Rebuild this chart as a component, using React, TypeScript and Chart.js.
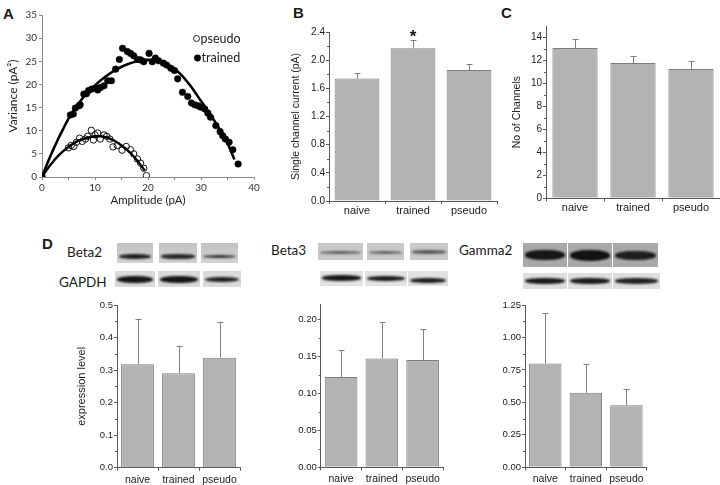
import React, { useEffect, useRef } from "react";
import { Chart, registerables } from "chart.js";

Chart.register(...registerables);

const ARIAL = "'Liberation Sans', Arial, sans-serif";
const CALIBRI = "Lato, 'Open Sans', sans-serif";
const AXIS = "#5a5a5a";
const TXT = "#222";
const BAR_FILL = "#b3b3b3";
const BAR_EDGE = "#7d7d7d";

// ---------- Panel A : variance vs amplitude ----------
const trainedAmplitude = [0, 5.35, 5.9, 6.3, 7.0, 7.2, 7.9, 8.4, 8.8, 9.4, 10.1, 10.5, 11.0, 11.7, 12.4, 13.1, 13.9, 14.6, 15.2, 16.1, 16.7, 17.3, 18.0, 18.6, 19.2, 20.2, 20.8, 21.4, 22.0, 22.9, 23.5, 24.3, 25.0, 25.6, 26.5, 27.5, 28.2, 28.8, 29.4, 29.9, 30.7, 31.3, 31.8, 32.8, 33.6, 34.1, 34.6, 35.3, 36.0, 37.0];
const trainedVariance = [0, 13.4, 13.6, 14.9, 15.4, 15.6, 17.9, 18.0, 18.7, 19.0, 19.2, 18.8, 19.3, 19.7, 20.8, 20.8, 23.3, 25.4, 27.8, 27.1, 26.7, 26.2, 25.4, 25.3, 24.9, 26.7, 24.9, 25.7, 25.1, 24.6, 24.2, 23.5, 23.0, 21.2, 18.3, 17.4, 16.0, 15.6, 15.4, 15.1, 14.7, 13.8, 12.9, 11.1, 9.8, 8.9, 8.2, 7.5, 5.9, 2.8];
const pseudoAmplitude = [0, 5.0, 5.5, 6.0, 6.5, 7.1, 7.6, 8.2, 8.6, 9.3, 9.7, 10.0, 10.5, 11.0, 11.7, 12.2, 12.8, 13.4, 14.2, 15.1, 15.9, 16.7, 17.3, 18.0, 18.6, 19.2, 19.7];
const pseudoVariance = [0, 6.3, 6.8, 6.6, 7.5, 8.4, 7.7, 8.2, 8.8, 10.1, 8.0, 9.1, 9.5, 8.2, 9.1, 8.8, 8.2, 6.5, 6.8, 5.8, 6.6, 5.9, 5.0, 3.9, 3.0, 1.9, 0.3];
const trainedFitAmplitude = [0, 1, 2, 3, 4, 5, 6, 8, 10, 12, 14, 16, 18, 20, 22, 24, 26, 28, 30, 32, 34, 35, 36.3];
const trainedFitVariance = [0, 2.9, 5.6, 8.1, 10.4, 12.6, 14.4, 17.5, 19.8, 21.7, 23.2, 24.3, 25.0, 25.3, 25.0, 24.1, 22.4, 19.7, 16.4, 13.1, 9.4, 7.3, 3.8];
const pseudoFitAmplitude = [0, 1, 2, 3, 4, 5, 6, 7, 8, 9, 10, 11, 12, 13, 14, 15, 16, 17, 18, 19, 19.4];
const pseudoFitVariance = [0, 1.7, 3.2, 4.5, 5.6, 6.5, 7.3, 7.9, 8.3, 8.6, 8.8, 8.8, 8.6, 8.2, 7.6, 6.8, 5.9, 4.8, 3.5, 2.0, 1.4];
const amplitudeTicks = [0, 5, 10, 15, 20, 25, 30, 35, 40];
const varianceTicks = [0, 5, 10, 15, 20, 25, 30, 35];
const legendLabels = ["pseudo", "trained"];

// ---------- Bar panels ----------
const groups = ["naive", "trained", "pseudo"];

const currentMean = [1.74, 2.17, 1.86];
const currentErr = [0.08, 0.12, 0.08];
const currentTicks = [0, 0.4, 0.8, 1.2, 1.6, 2.0, 2.4];
const currentMinor = [0.2, 0.6, 1.0, 1.4, 1.8, 2.2];

const channelsMean = [13.08, 11.77, 11.25];
const channelsErr = [0.78, 0.58, 0.69];
const channelsTicks = [0, 2, 4, 6, 8, 10, 12, 14];
const channelsMinor = [1, 3, 5, 7, 9, 11, 13];

const beta2Mean = [0.318, 0.29, 0.338];
const beta2Err = [0.138, 0.085, 0.111];
const beta2Ticks = [0, 0.1, 0.2, 0.3, 0.4, 0.5];
const beta2Minor = [0.05, 0.15, 0.25, 0.35, 0.45];

const beta3Mean = [0.122, 0.147, 0.145];
const beta3Err = [0.037, 0.049, 0.042];
const beta3Ticks = [0, 0.05, 0.1, 0.15, 0.2];
const beta3Minor = [0.025, 0.075, 0.125, 0.175];

const gamma2Mean = [0.8, 0.574, 0.477];
const gamma2Err = [0.39, 0.219, 0.123];
const gamma2Ticks = [0, 0.25, 0.5, 0.75, 1.0, 1.25];
const gamma2Minor = [0.125, 0.375, 0.625, 0.875, 1.125];

const pairs = (xs: number[], ys: number[]) => xs.map((x, i) => ({ x, y: ys[i] }));

const barExtras = {
  id: "barExtras",
  afterDatasetsDraw(chart: any, _args: any, opts: any) {
    const { ctx, chartArea } = chart;
    const y = chart.scales.y;
    const meta = chart.getDatasetMeta(0);
    const data = chart.data.datasets[0].data as number[];
    ctx.save();
    ctx.strokeStyle = "#808080";
    ctx.lineWidth = 1;
    meta.data.forEach((bar: any, i: number) => {
      const e = opts.errors ? opts.errors[i] : null;
      if (e == null) return;
      const xp = Math.round(bar.x) + 0.5;
      const yTop = Math.round(y.getPixelForValue(data[i] + e)) + 0.5;
      ctx.beginPath();
      ctx.moveTo(xp, bar.y);
      ctx.lineTo(xp, yTop);
      ctx.moveTo(xp - 3, yTop);
      ctx.lineTo(xp + 3, yTop);
      ctx.stroke();
      if (opts.star === i) {
        ctx.fillStyle = "#111";
        ctx.font = `bold 17px ${ARIAL}`;
        ctx.textAlign = "center";
        ctx.textBaseline = "alphabetic";
        ctx.fillText("*", bar.x, yTop + 1);
      }
    });
    ctx.strokeStyle = AXIS;
    (opts.minors || []).forEach((v: number) => {
      const yp = Math.round(y.getPixelForValue(v)) + 0.5;
      ctx.beginPath();
      ctx.moveTo(chartArea.left - 2, yp);
      ctx.lineTo(chartArea.left, yp);
      ctx.stroke();
    });
    ctx.restore();
  },
};

const legendA = {
  id: "legendA",
  afterDraw(chart: any) {
    const { ctx } = chart;
    ctx.save();
    ctx.font = `12.5px ${CALIBRI}`;
    ctx.fillStyle = TXT;
    ctx.textBaseline = "middle";
    ctx.textAlign = "left";
    ctx.beginPath();
    ctx.arc(196.5, 38.5, 3, 0, Math.PI * 2);
    ctx.strokeStyle = "#222";
    ctx.lineWidth = 1;
    ctx.stroke();
    ctx.fillText(legendLabels[0], 200.5, 38.5);
    ctx.beginPath();
    ctx.arc(197.5, 58, 3.4, 0, Math.PI * 2);
    ctx.fillStyle = "#000";
    ctx.fill();
    ctx.fillStyle = TXT;
    ctx.fillText(legendLabels[1], 201.5, 58);
    ctx.restore();
  },
};

function scatterConfig(): any {
  return {
    type: "scatter",
    data: {
      datasets: [
        { data: pairs(trainedFitAmplitude, trainedFitVariance), showLine: true, borderColor: "#000", borderWidth: 2.6, pointRadius: 0, cubicInterpolationMode: "monotone" },
        { data: pairs(pseudoFitAmplitude, pseudoFitVariance), showLine: true, borderColor: "#000", borderWidth: 2.4, pointRadius: 0, cubicInterpolationMode: "monotone" },
        { data: pairs(trainedAmplitude, trainedVariance), pointRadius: 3.3, backgroundColor: "#000", borderColor: "#000", borderWidth: 0.5 },
        { data: pairs(pseudoAmplitude, pseudoVariance), pointRadius: 3.2, backgroundColor: "rgba(255,255,255,0)", borderColor: "#111", borderWidth: 1 },
      ],
    },
    plugins: [legendA],
    options: {
      animation: false,
      responsive: false,
      events: [],
      layout: { padding: { top: 15, right: 8, left: 0, bottom: 0 } },
      plugins: { legend: { display: false }, tooltip: { enabled: false } },
      scales: {
        x: {
          type: "linear",
          min: 0,
          max: 40,
          afterBuildTicks: (s: any) => { s.ticks = amplitudeTicks.map((v) => ({ value: v })); },
          grid: { drawOnChartArea: false, tickLength: 3, color: "#8a8a8a" },
          border: { color: "#8a8a8a" },
          ticks: { autoSkip: false, maxRotation: 0, font: { family: CALIBRI, size: 10 }, color: "#333", padding: 2, callback: (v: number) => (v % 10 === 0 ? String(v) : "") },
          title: { display: true, text: "Amplitude (pA)", font: { family: CALIBRI, size: 11.5 }, color: "#222", padding: { top: 0, bottom: 5 } },
          afterFit: (s: any) => { s.height = 35; },
        },
        y: {
          type: "linear",
          min: 0,
          max: 35,
          afterBuildTicks: (s: any) => { s.ticks = varianceTicks.map((v) => ({ value: v })); },
          grid: { drawOnChartArea: false, tickLength: 3, color: "#8a8a8a" },
          border: { color: "#8a8a8a" },
          ticks: { font: { family: CALIBRI, size: 10 }, color: "#333", padding: 2 },
          title: { display: true, text: "Variance (pA²)", font: { family: CALIBRI, size: 12 }, color: "#222", padding: { top: 6, bottom: 0 } },
          afterFit: (s: any) => { s.width = 42; },
        },
      },
    },
  };
}

type BarOpts = {
  means: number[]; errors: number[]; max: number; majors: number[]; minors: number[]; decimals: number;
  yTitle?: string; titleSize?: number; titlePad?: number; yWidth: number; xHeight: number; padTop: number; padRight: number;
  barPct: number; tickSize: number; catSize: number; catPad: number; star?: number;
};

function barConfig(o: BarOpts): any {
  return {
    type: "bar",
    data: {
      labels: groups,
      datasets: [{ data: o.means, backgroundColor: BAR_FILL, borderColor: BAR_EDGE, borderWidth: 1, barPercentage: o.barPct, categoryPercentage: 1 }],
    },
    plugins: [barExtras],
    options: {
      animation: false,
      responsive: false,
      events: [],
      layout: { padding: { top: o.padTop, right: o.padRight, left: 0, bottom: 0 } },
      plugins: { legend: { display: false }, tooltip: { enabled: false }, barExtras: { errors: o.errors, minors: o.minors, star: o.star } },
      scales: {
        x: {
          grid: { offset: true, drawOnChartArea: false, tickLength: 3, color: AXIS },
          border: { color: AXIS },
          ticks: { autoSkip: false, maxRotation: 0, font: { family: ARIAL, size: o.catSize }, color: TXT, padding: o.catPad },
          afterFit: (s: any) => { s.height = o.xHeight; },
        },
        y: {
          min: 0,
          max: o.max,
          afterBuildTicks: (s: any) => { s.ticks = o.majors.map((v) => ({ value: v })); },
          grid: { drawOnChartArea: false, tickLength: 3, color: AXIS },
          border: { color: AXIS },
          ticks: { font: { family: ARIAL, size: o.tickSize }, color: TXT, padding: 1, callback: (v: number) => Number(v).toFixed(o.decimals) },
          title: o.yTitle
            ? { display: true, text: o.yTitle, font: { family: ARIAL, size: o.titleSize || 10 }, color: TXT, padding: { top: o.titlePad ?? 2, bottom: 0 } }
            : { display: false },
          afterFit: (s: any) => { s.width = o.yWidth; },
        },
      },
    },
  };
}

function ChartBox({ left, top, width, height, make }: { left: number; top: number; width: number; height: number; make: () => any }) {
  const ref = useRef<HTMLCanvasElement>(null);
  useEffect(() => {
    const chart = new Chart(ref.current as HTMLCanvasElement, make());
    return () => chart.destroy();
  }, []);
  return (
    <canvas ref={ref} width={width} height={height} style={{ position: "absolute", left, top, width, height, display: "block" }} />
  );
}

type Lane = { x: number; w: number; by: number; bh: number; band: string };
function Blot({ top, height, bg, lanes }: { top: number; height: number; bg: string; lanes: Lane[] }) {
  return (
    <>
      {lanes.map((l, i) => (
        <div key={i} style={{ position: "absolute", left: l.x, top, width: l.w, height, background: bg, overflow: "hidden" }}>
          <div style={{ position: "absolute", left: 2, right: 2, top: l.by - l.bh / 2, height: l.bh, background: l.band, borderRadius: "45%", filter: "blur(1.3px)" }} />
        </div>
      ))}
    </>
  );
}

function Text({ x, y, size, family, bold, children }: { x: number; y: number; size: number; family: string; bold?: boolean; children: React.ReactNode }) {
  return (
    <div style={{ position: "absolute", left: x, top: y, fontFamily: family, fontSize: size, fontWeight: bold ? 700 : 400, lineHeight: 1, color: "#1a1a1a", whiteSpace: "nowrap" }}>
      {children}
    </div>
  );
}

export default function App() {
  return (
    <div style={{ position: "absolute", left: 0, top: 0, width: 720, height: 485, background: "#fff", overflow: "hidden" }}>
      <Text x={3} y={6} size={15} family={ARIAL} bold>A</Text>
      <Text x={293} y={4.5} size={15} family={ARIAL} bold>B</Text>
      <Text x={501} y={4.5} size={15} family={ARIAL} bold>C</Text>
      <Text x={42} y={235.5} size={15} family={ARIAL} bold>D</Text>

      <ChartBox left={0} top={0} width={262} height={212} make={scatterConfig} />

      <ChartBox
        left={288} top={0} width={212} height={222}
        make={() => barConfig({ means: currentMean, errors: currentErr, max: 2.4, majors: currentTicks, minors: currentMinor, decimals: 1, yTitle: "Single channel current (pA)", titleSize: 10.5, yWidth: 41, xHeight: 21, padTop: 32, padRight: 3, barPct: 0.8, tickSize: 10, catSize: 11, catPad: 0, star: 1 })}
      />
      <ChartBox
        left={510} top={0} width={210} height={222}
        make={() => barConfig({ means: channelsMean, errors: channelsErr, max: 15, majors: channelsTicks, minors: channelsMinor, decimals: 0, yTitle: "No of Channels", titleSize: 10.5, titlePad: 1, yWidth: 36, xHeight: 23.7, padTop: 26, padRight: 0, barPct: 0.78, tickSize: 10, catSize: 11, catPad: 0 })}
      />

      {/* Western blots */}
      <Text x={67} y={246} size={13.5} family={CALIBRI}>Beta2</Text>
      <Text x={59} y={276} size={13.5} family={CALIBRI}>GAPDH</Text>
      <Text x={271} y={243.5} size={13.5} family={CALIBRI}>Beta3</Text>
      <Text x={459} y={244} size={13.5} family={CALIBRI}>Gamma2</Text>

      <Blot top={243} height={20} bg="linear-gradient(#c2c2c2, #d2d2d2)" lanes={[
        { x: 117, w: 36, by: 13.5, bh: 5, band: "#1e1e1e" },
        { x: 159, w: 38, by: 13.5, bh: 4.5, band: "#262626" },
        { x: 201, w: 37, by: 13.5, bh: 3.5, band: "#333" },
      ]} />
      <Blot top={271} height={16} bg="#dadada" lanes={[
        { x: 115, w: 40, by: 8.5, bh: 7, band: "#141414" },
        { x: 158, w: 42, by: 8.5, bh: 7, band: "#141414" },
        { x: 203, w: 38, by: 8.5, bh: 5.5, band: "#222" },
      ]} />
      <Blot top={243} height={17} bg="#c9c9c9" lanes={[
        { x: 318, w: 45, by: 9, bh: 3, band: "#5e5e5e" },
        { x: 367, w: 37, by: 9, bh: 3, band: "#5e5e5e" },
        { x: 410, w: 38, by: 9, bh: 3.5, band: "#575757" },
      ]} />
      <Blot top={271} height={15} bg="#e2e2e2" lanes={[
        { x: 320, w: 43, by: 7, bh: 5.5, band: "#161616" },
        { x: 365, w: 42, by: 7, bh: 5, band: "#1a1a1a" },
        { x: 408, w: 40, by: 9.5, bh: 5, band: "#1e1e1e" },
      ]} />
      <Blot top={243} height={24} bg="#a9a9a9" lanes={[
        { x: 523, w: 44, by: 12, bh: 10, band: "#161616" },
        { x: 568, w: 44, by: 12.5, bh: 11, band: "#121212" },
        { x: 613, w: 45, by: 12.5, bh: 9, band: "#1e1e1e" },
      ]} />
      <Blot top={273} height={16} bg="#dedede" lanes={[
        { x: 523, w: 44, by: 8, bh: 6, band: "#1a1a1a" },
        { x: 568, w: 44, by: 8, bh: 6, band: "#1a1a1a" },
        { x: 613, w: 47, by: 8, bh: 5.5, band: "#222" },
      ]} />

      <ChartBox
        left={72} top={295} width={172} height={190}
        make={() => barConfig({ means: beta2Mean, errors: beta2Err, max: 0.5, majors: beta2Ticks, minors: beta2Minor, decimals: 1, yTitle: "expression level", titleSize: 11, titlePad: 3, yWidth: 45, xHeight: 17.3, padTop: 10, padRight: 4, barPct: 0.8, tickSize: 9.5, catSize: 10.5, catPad: 3 })}
      />
      <ChartBox
        left={280} top={295} width={168} height={190}
        make={() => barConfig({ means: beta3Mean, errors: beta3Err, max: 0.22, majors: beta3Ticks, minors: beta3Minor, decimals: 2, yWidth: 40.7, xHeight: 17.7, padTop: 9.5, padRight: 5, barPct: 0.8, tickSize: 9.5, catSize: 10.5, catPad: 3 })}
      />
      <ChartBox
        left={485} top={295} width={166} height={190}
        make={() => barConfig({ means: gamma2Mean, errors: gamma2Err, max: 1.25, majors: gamma2Ticks, minors: gamma2Minor, decimals: 2, yWidth: 40, xHeight: 17.7, padTop: 10, padRight: 4.3, barPct: 0.8, tickSize: 9.5, catSize: 10.5, catPad: 3 })}
      />
    </div>
  );
}
